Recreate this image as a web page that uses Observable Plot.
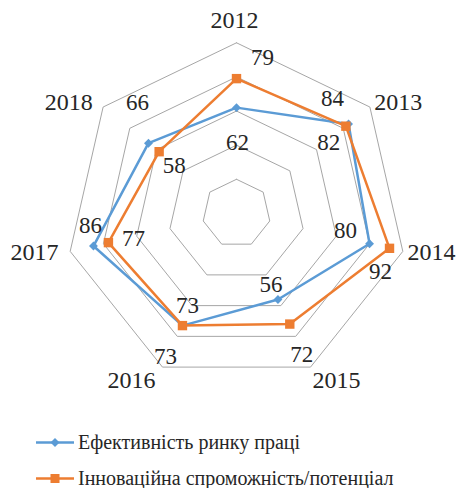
<!DOCTYPE html>
<html><head><meta charset="utf-8">
<script src="https://cdn.jsdelivr.net/npm/d3@7"></script>
<script src="https://cdn.jsdelivr.net/npm/@observablehq/plot@0.6"></script>
<style>
body{margin:0;background:#fff;font-family:"Liberation Serif","Tinos","Times New Roman","DejaVu Serif",serif;color:#262626;overflow:hidden;}
#chart{width:459px;height:410px;}
.legend{margin-top:14px;}
.row{display:flex;align-items:center;height:36px;font-size:20px;line-height:24px;}
.row svg{margin-left:36px;margin-right:4px;}
</style></head>
<body>
<div id="chart"></div>
<div class="legend" id="legend"></div>
<script>
const years = ["2012","2013","2014","2015","2016","2017","2018"];
const seriesNames = ["Ефективність ринку праці","Інноваційна спроможність/потенціал"];
const labourEfficiency = [62,84,80,56,73,86,66];
const innovationCapacity = [79,82,92,72,73,77,58];
const ringLevels = [20,40,60,80,100];
const colors = ["#5B9BD5","#ED7D31"];
// pixel nudges for value labels and category labels (layout only)
const labelNudge = [
  [[1,35],[-16,-25],[-24,-13],[-7,-15],[5,-20],[-3,-20],[-11,-41]],
  [[26,-21],[-17,16],[-9,23],[12,31],[-17,31],[25,-4],[15,14]]
];
const yearNudge = [[-2,5],[7,12.5],[2,-5.6],[14,-11.4],[-19,-11.4],[-9,-5.2],[-13,12.5]];

const FONT = "'Liberation Serif', Tinos, 'Times New Roman', 'DejaVu Serif', serif";
const n = years.length;
const R = 170.6, cx = 236, cy = 212.9, k = R/100;
const ang = i => i * 2 * Math.PI / n;
const pt = (v, i) => ({x: v*Math.sin(ang(i)), y: v*Math.cos(ang(i))});
const nudge = (p, d) => ({x: p.x + d[0]/k, y: p.y - d[1]/k});

const grid = ringLevels.flatMap(L => d3.range(n+1).map(i => ({...pt(L, i % n), L})));
const series = [labourEfficiency, innovationCapacity].map((vals, s) =>
  d3.range(n+1).map(i => ({...pt(vals[i % n], i % n), s, v: vals[i % n], i: i % n})));
const pts = series.map(a => a.slice(0, n));
const labels = pts.flatMap((a, s) => a.map(d => ({...nudge(d, labelNudge[s][d.i]), t: String(d.v)})));
const axisLabels = years.map((y, i) => ({...nudge(pt(198/k, i), yearNudge[i]), t: y}));

const plot = Plot.plot({
  width: 459, height: 410, margin: 0,
  x: {domain: [-100, 100], range: [cx - R, cx + R], axis: null},
  y: {domain: [-100, 100], range: [cy + R, cy - R], axis: null},
  style: {fontFamily: FONT, background: "white"},
  marks: [
    Plot.line(grid, {x: "x", y: "y", z: "L", stroke: "#A6A6A6", strokeWidth: 1}),
    Plot.line(series[0], {x: "x", y: "y", stroke: colors[0], strokeWidth: 2.5}),
    Plot.dot(pts[0], {x: "x", y: "y", symbol: "diamond2", r: 4, fill: colors[0], stroke: "none"}),
    Plot.line(series[1], {x: "x", y: "y", stroke: colors[1], strokeWidth: 2.5}),
    Plot.dot(pts[1], {x: "x", y: "y", symbol: "square", r: 5.3, fill: colors[1], stroke: "none"}),
    Plot.text(labels, {x: "x", y: "y", text: "t", fontSize: 23, fill: "#262626", fontFamily: FONT}),
    Plot.text(axisLabels, {x: "x", y: "y", text: "t", fontSize: 24, fill: "#262626", fontFamily: FONT})
  ]
});
document.getElementById("chart").appendChild(plot);

const legend = document.getElementById("legend");
seriesNames.forEach((name, s) => {
  const row = document.createElement("div");
  row.className = "row";
  const marker = s === 0
    ? `<path d="M19,3 L23.5,7.5 L19,12 L14.5,7.5Z" fill="${colors[0]}"/>`
    : `<rect x="14.5" y="3" width="9" height="9" fill="${colors[1]}"/>`;
  row.innerHTML = `<svg width="38" height="15"><line x1="0" x2="38" y1="7.5" y2="7.5" stroke="${colors[s]}" stroke-width="2.5"/>${marker}</svg><span>${name}</span>`;
  legend.appendChild(row);
});
</script>
</body></html>
